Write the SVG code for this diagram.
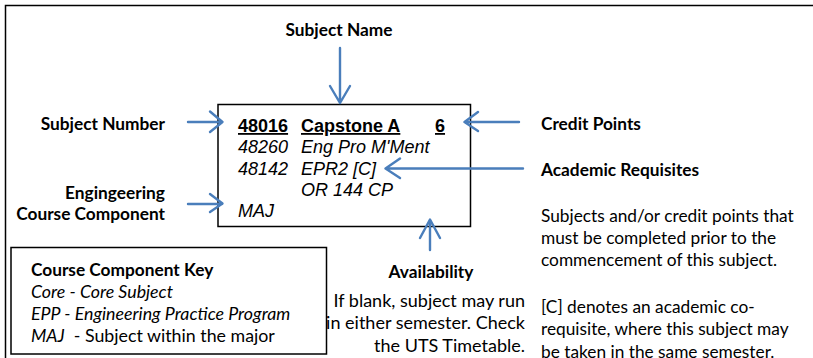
<svg xmlns="http://www.w3.org/2000/svg" width="813" height="358" viewBox="0 0 813 358">
<style>
.lbl{font-family:Lato,"Open Sans","DejaVu Sans",sans-serif;font-weight:bold;font-size:17.3px;fill:#000}
.body{font-family:Lato,"Open Sans","DejaVu Sans",sans-serif;font-size:17.3px;fill:#000}
.av{font-size:18px}
.key{font-size:17.8px}
.it{font-style:italic}
.ar{font-family:"Liberation Sans",Arial,sans-serif;font-size:18px;fill:#000}
.arr{stroke:#4A7EBB;stroke-width:2.4;fill:none;stroke-linecap:round;stroke-linejoin:round}
.frame{fill:none;stroke:#000;stroke-width:1.5}
</style>
<rect width="813" height="358" fill="#fff"/>
<path class="frame" d="M5.5 370 V5.5 H830"/>
<g id="subject-box">
<rect x="218" y="104.5" width="252.5" height="122" fill="#fff" stroke="#000" stroke-width="1.5"/>
<text class="ar" font-weight="bold" x="238" y="132" text-decoration="underline">48016</text>
<text class="ar" font-weight="bold" x="301" y="132" text-decoration="underline">Capstone A</text>
<text class="ar" font-weight="bold" x="435" y="132" text-decoration="underline">6</text>
<text class="ar it" x="238" y="153">48260</text>
<text class="ar it" x="301" y="153">Eng Pro M'Ment</text>
<text class="ar it" x="238" y="175">48142</text>
<text class="ar it" x="301" y="175">EPR2 [C]</text>
<text class="ar it" x="301" y="196">OR 144 CP</text>
<text class="ar it" x="238" y="217">MAJ</text>
</g>
<g id="subject-name"><text class="lbl" x="339" y="36" text-anchor="middle" font-size="17.8px">Subject Name</text></g>
<g id="subject-number"><text class="lbl" x="165" y="130" text-anchor="end">Subject Number</text></g>
<g id="course-component"><text class="lbl" x="165" y="199" text-anchor="end">Engingeering</text><text class="lbl" x="165" y="220" text-anchor="end">Course Component</text></g>
<g id="credit-points"><text class="lbl" x="541" y="130">Credit Points</text></g>
<g id="academic-requisites"><text class="lbl" x="541" y="176">Academic Requisites</text>
<text class="body" x="541" y="222">Subjects and/or credit points that</text>
<text class="body" x="541" y="244">must be completed prior to the</text>
<text class="body" x="541" y="266">commencement of this subject.</text>
<text class="body" x="541" y="313">[C] denotes an academic co-</text>
<text class="body" x="541" y="335">requisite, where this subject may</text>
<text class="body" x="541" y="357.5">be taken in the same semester.</text>
</g>
<g id="availability"><text class="lbl" x="431" y="278" text-anchor="middle">Availability</text>
<text class="body av" x="525" y="307" text-anchor="end">If blank, subject may run</text>
<text class="body av" x="525" y="329" text-anchor="end">in either semester. Check</text>
<text class="body av" x="525" y="352" text-anchor="end">the UTS Timetable.</text>
</g>
<g id="component-key">
<rect x="11" y="247.5" width="315.5" height="106.5" fill="#fff" stroke="#000" stroke-width="1.5"/>
<text class="lbl" x="31" y="276" font-size="16px">Course Component Key</text>
<text class="body key it" x="31" y="298">Core - Core Subject</text>
<text class="body key it" x="31" y="319.5" font-size="18.3px">EPP - Engineering Practice Program</text>
<text class="body key" x="31" y="342"><tspan class="it">MAJ</tspan>&#160; - Subject within the major</text>
</g>
<g id="connectors">
<path class="arr" d="M340 48 V103 M330 86 L340 103 L350 86"/>
<path class="arr" d="M188 122 H222 M210 111.5 L222.5 122 L210 132"/>
<path class="arr" d="M188 204 H222 M210 194 L222.5 203.5 L210 212"/>
<path class="arr" d="M519 122 H465 M478 112 L464.5 122 L478 131"/>
<path class="arr" d="M523 168.5 H386 M400 158.5 L385.5 168.5 L400 178"/>
<path class="arr" d="M430 250 V220 M420 238 L430 219.5 L440 238"/>
</g>
</svg>
